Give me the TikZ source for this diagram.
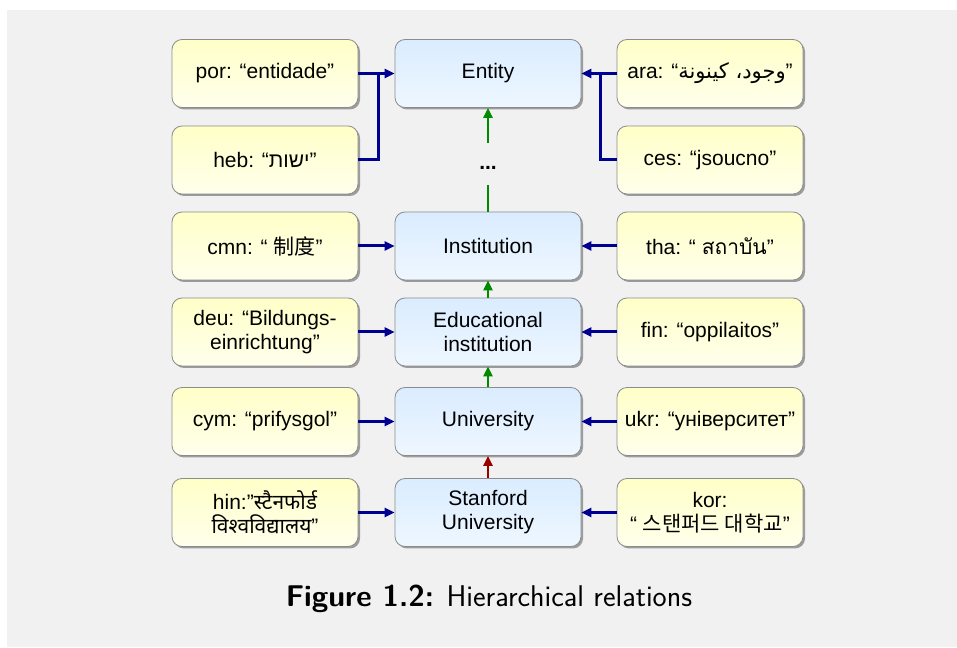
\documentclass[tikz,border=0pt]{standalone}
\usepackage{fontspec}
\setmainfont{Liberation Sans}
\newfontfamily\hebfont[Script=Hebrew]{Liberation Sans}
\newfontfamily\arabicfont[Script=Arabic]{DejaVu Sans}
\newfontfamily\thaifont[Script=Thai]{Loma}
\newfontfamily\devafont[Script=Devanagari]{Noto Sans}
\newfontfamily\cjkfont{Noto Sans CJK SC}
\newfontfamily\korfont{Noto Sans CJK KR}
\TeXXeTstate=1
\usetikzlibrary{arrows.meta,shadows}

\definecolor{bggray}{HTML}{F1F1F1}
\definecolor{boxline}{HTML}{8C8C8C}
\definecolor{ytop}{HTML}{FFFFC8}
\definecolor{ybot}{HTML}{FFFFEC}
\definecolor{btop}{HTML}{DAECFF}
\definecolor{bbot}{HTML}{EEF7FF}
\definecolor{transblue}{HTML}{000090}
\definecolor{isagreen}{HTML}{008A00}
\definecolor{instred}{HTML}{990000}

\begin{document}
\begin{tikzpicture}[x=1pt, y=1pt,
    box/.style={rectangle, rounded corners=10pt, draw=boxline, line width=0.8pt,
        minimum width=186pt, minimum height=68pt, inner sep=2pt, align=center,
        font=\fontsize{21}{24}\selectfont,
        drop shadow={shadow xshift=2pt, shadow yshift=-2pt, fill=black, opacity=0.35}},
    langbox/.style={box, top color=ytop, bottom color=ybot},
    conceptbox/.style={box, top color=btop, bottom color=bbot},
    transline/.style={draw=transblue, line width=3pt},
    transl/.style={transline, -{Triangle[length=10pt,width=9pt]}},
    isaline/.style={draw=isagreen, line width=2.8pt},
    isa/.style={isaline, -{Triangle[length=10pt,width=9pt]}},
    instof/.style={draw=instred, line width=2.8pt, -{Triangle[length=10pt,width=9pt]}}]

    % background
    \useasboundingbox (0,0) rectangle (957,647);
    \fill[bggray] (7,0) rectangle (957,637);

    % row 1
    \node[langbox] (por) at (265,573.5) {por: “entidade”};
    \node[conceptbox] (entity) at (488,573.5) {Entity};
    \node[langbox] (ara) at (710,573.5) {ara: “{\arabicfont\beginR وجود، كينونة\endR}”};
    % row 2
    \node[langbox] (heb) at (265,487) {heb: “{\hebfont\beginR ישות\endR}”};
    \node[minimum height=42pt, inner sep=0pt, text height=14pt, text depth=2pt,
        font=\fontsize{21}{24}\selectfont\bfseries] (dots) at (488,483) {...};
    \node[langbox] (ces) at (710,487) {ces: “jsoucno”};
    % row 3
    \node[langbox] (cmn) at (265,401) {cmn: “ {\cjkfont 制度}”};
    \node[conceptbox] (inst) at (488,401) {Institution};
    \node[langbox] (tha) at (710,401) {tha: “ {\thaifont สถาบัน}”};
    % row 4
    \node[langbox] (deu) at (265,315) {deu: “Bildungs-\\einrichtung”};
    \node[conceptbox] (edu) at (488,315) {Educational\\institution};
    \node[langbox] (fin) at (710,315) {fin: “oppilaitos”};
    % row 5
    \node[langbox] (cym) at (265,225.5) {cym: “prifysgol”};
    \node[conceptbox] (univ) at (488,225.5) {University};
    \node[langbox] (ukr) at (710,225.5) {ukr: “університет”};
    % row 6
    \node[langbox] (hin) at (265,134.5) {hin:”{\devafont स्टैनफोर्ड}\\{\devafont विश्वविद्यालय}”};
    \node[conceptbox] (stan) at (488,134.5) {Stanford\\University};
    \node[langbox] (kor) at (710,134.5) {kor:\\“ {\korfont 스탠퍼드 대학교}”};

    % translations
    \coordinate (ljoin) at (378,573.5);
    \coordinate (rjoin) at (600,573.5);
    \draw[transl] (por) -- (entity);
    \draw[transline] (heb) -| (ljoin);
    \draw[transl] (ara) -- (entity);
    \draw[transline] (ces) -| (rjoin);
    \foreach \l/\c/\r in {cmn/inst/tha, deu/edu/fin, cym/univ/ukr, hin/stan/kor} {
        \draw[transl] (\l) -- (\c);
        \draw[transl] (\r) -- (\c);
    }

    % hierarchy
    \draw[isaline] (inst) -- (dots);
    \draw[isa] (dots) -- (entity);
    \draw[isa] (edu) -- (inst);
    \draw[isa] (univ) -- (edu);
    \draw[instof] (stan) -- (univ);

    % caption
    \node[anchor=base, font=\fontsize{30}{36}\selectfont\sffamily] (caption) at (489,40.3)
        {\textbf{Figure 1.2:} Hierarchical relations};
\end{tikzpicture}
\end{document}
